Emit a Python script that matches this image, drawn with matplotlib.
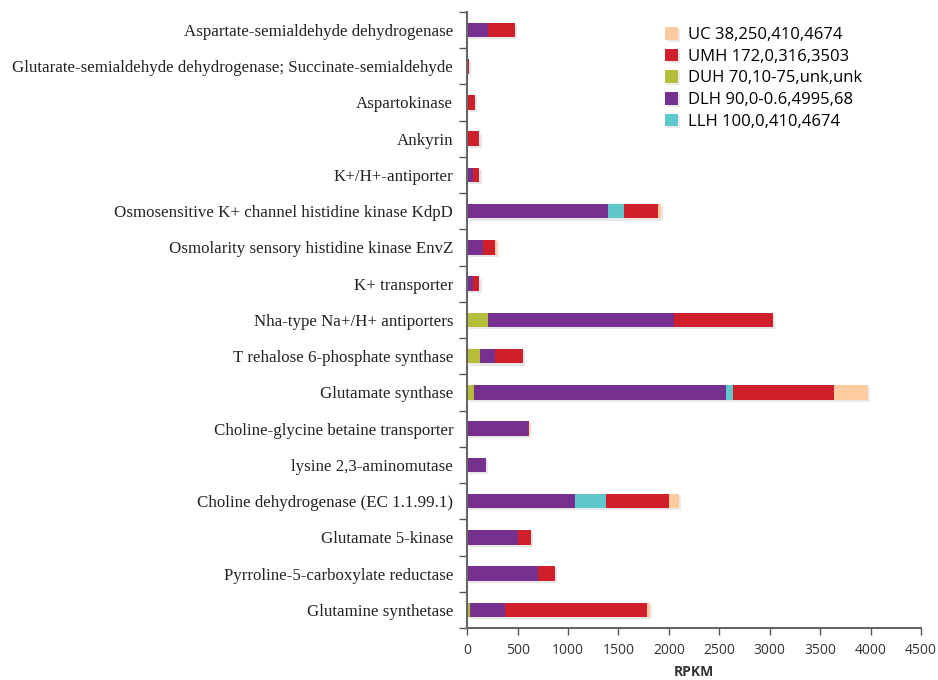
import matplotlib.pyplot as plt
import matplotlib.patheffects as pe
import numpy as np

categories = [
    'Aspartate-semialdehyde dehydrogenase',
    'Glutarate-semialdehyde dehydrogenase; Succinate-semialdehyde',
    'Aspartokinase',
    'Ankyrin',
    'K+/H+-antiporter',
    'Osmosensitive K+ channel histidine kinase KdpD',
    'Osmolarity sensory histidine kinase EnvZ',
    'K+ transporter',
    'Nha-type Na+/H+ antiporters',
    'T rehalose 6-phosphate synthase',
    'Glutamate synthase',
    'Choline-glycine betaine transporter',
    'lysine 2,3-aminomutase',
    'Choline dehydrogenase (EC 1.1.99.1)',
    'Glutamate 5-kinase',
    'Pyrroline-5-carboxylate reductase',
    'Glutamine synthetase',
]

# RPKM per site, stacked left to right: DUH, DLH, LLH, UMH, UC
duh = [0, 0, 0, 0, 0, 0, 0, 0, 211, 126, 73, 0, 0, 10, 0, 0, 30]
dlh = [211, 0, 0, 0, 60, 1397, 158, 60, 1839, 155, 2489, 604, 191, 1060, 508, 699, 350]
llh = [0, 0, 0, 0, 0, 162, 0, 0, 0, 0, 76, 0, 0, 307, 0, 0, 0]
umh = [264, 20, 80, 122, 62, 334, 119, 62, 980, 271, 994, 10, 0, 624, 125, 172, 1406]
uc = [0, 0, 0, 0, 0, 30, 15, 0, 0, 0, 343, 0, 0, 99, 0, 0, 23]

series = [
    ('DUH 70,10-75,unk,unk', duh, '#b5bd3a'),
    ('DLH 90,0-0.6,4995,68', dlh, '#76308f'),
    ('LLH 100,0,410,4674', llh, '#5ec8cc'),
    ('UMH 172,0,316,3503', umh, '#ce1f2a'),
    ('UC 38,250,410,4674', uc, '#fdcb9e'),
]
legend_order = ['UC', 'UMH', 'DUH', 'DLH', 'LLH']

fig = plt.figure(figsize=(9.38, 6.8), dpi=100)
ax = fig.add_axes([0.498, 0.0765, 0.484, 0.906])

y = np.arange(len(categories))
left = np.zeros(len(categories))
handles = {}
for name, vals, color in series:
    vals = np.array(vals, dtype=float)
    bars = ax.barh(y, vals, left=left, height=0.4, color=color, label=name,
                   path_effects=[pe.SimplePatchShadow(offset=(1.5, -1.5), alpha=0.1), pe.Normal()])
    handles[name.split()[0]] = bars
    left += vals

ax.set_ylim(len(categories) - 0.5, -0.5)
ax.set_xlim(0, 4500)
ax.set_xticks(np.arange(0, 4501, 500))
ax.tick_params(axis='x', labelsize=10, length=5, width=1, pad=6, color='#555555', labelcolor='#333333')
for lab in ax.get_xticklabels():
    lab.set_family('Open Sans')

# category labels at centers, tick marks at the boundaries
ax.set_yticks(np.arange(-0.5, len(categories), 1))
ax.set_yticklabels([])
ax.set_yticks(y, minor=True)
ax.set_yticklabels(categories, minor=True, family='Liberation Serif', fontsize=12.2, color='#222222')
ax.tick_params(axis='y', which='major', length=6, width=1, color='#555555')
ax.tick_params(axis='y', which='minor', length=0, pad=10)

for s in ['top', 'right']:
    ax.spines[s].set_visible(False)
for s in ['left', 'bottom']:
    ax.spines[s].set_color('#666666')
    ax.spines[s].set_linewidth(1.5)

ax.set_xlabel('RPKM', fontsize=10, fontweight='bold', family='Open Sans', labelpad=5, color='#333333')

ax.legend([handles[k] for k in legend_order],
          [s[0] for k in legend_order for s in series if s[0].startswith(k + ' ')],
          loc='upper left', bbox_to_anchor=(0.403, 1.0), frameon=False,
          prop={'family': 'Open Sans', 'size': 12}, handlelength=0.8, handleheight=0.8,
          handletextpad=0.6, labelspacing=0.33)

fig.savefig('out.png', dpi=100)
